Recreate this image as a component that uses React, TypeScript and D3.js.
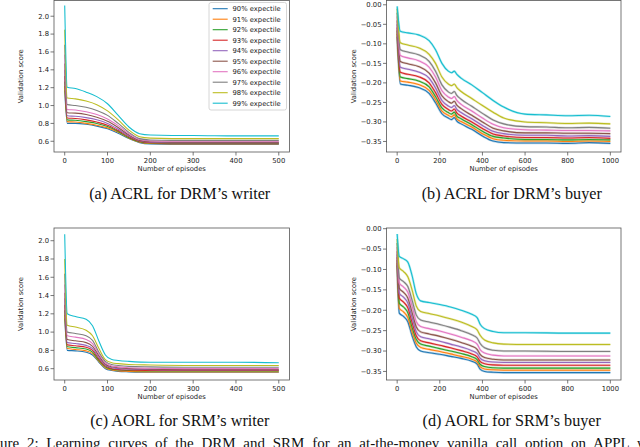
import * as d3 from "d3";

const expectiles = ["90%", "91%", "92%", "93%", "94%", "95%", "96%", "97%", "98%", "99%"];
const palette = d3.schemeCategory10;

// (a) ACRL, DRM writer — one row per expectile, 90% .. 99%
const drmWriterEpisodes = [0, 6, 25, 50, 75, 100, 125, 150, 175, 200, 250, 300, 400, 500];
const drmWriterScores = [
  [1.17, 0.80, 0.80, 0.79, 0.77, 0.74, 0.69, 0.63, 0.585, 0.57, 0.565, 0.565, 0.565, 0.565],
  [1.22, 0.82, 0.815, 0.80, 0.78, 0.75, 0.70, 0.635, 0.59, 0.575, 0.57, 0.57, 0.57, 0.57],
  [1.27, 0.84, 0.835, 0.82, 0.80, 0.765, 0.71, 0.64, 0.595, 0.58, 0.575, 0.575, 0.575, 0.575],
  [1.33, 0.86, 0.855, 0.84, 0.815, 0.78, 0.72, 0.65, 0.60, 0.585, 0.58, 0.58, 0.58, 0.58],
  [1.40, 0.885, 0.88, 0.865, 0.84, 0.80, 0.735, 0.66, 0.605, 0.59, 0.585, 0.585, 0.585, 0.585],
  [1.47, 0.92, 0.915, 0.90, 0.87, 0.825, 0.755, 0.67, 0.61, 0.595, 0.59, 0.59, 0.59, 0.59],
  [1.57, 0.955, 0.95, 0.93, 0.90, 0.85, 0.775, 0.685, 0.62, 0.605, 0.60, 0.60, 0.60, 0.60],
  [1.68, 1.01, 1.00, 0.98, 0.945, 0.89, 0.80, 0.70, 0.63, 0.615, 0.61, 0.61, 0.61, 0.61],
  [1.85, 1.085, 1.075, 1.05, 1.01, 0.94, 0.84, 0.725, 0.65, 0.635, 0.63, 0.63, 0.63, 0.63],
  [2.12, 1.205, 1.19, 1.15, 1.10, 1.02, 0.89, 0.76, 0.685, 0.67, 0.665, 0.665, 0.66, 0.66],
];

// (b) ACRL, DRM buyer
const drmBuyerEpisodes = [0, 15, 50, 100, 150, 180, 210, 240, 255, 268, 280, 300, 350, 400, 450, 500, 600, 700, 800, 900, 1000];
const drmBuyerScores = [
  [-0.082, -0.203, -0.206, -0.212, -0.227, -0.251, -0.279, -0.290, -0.294, -0.289, -0.298, -0.305, -0.319, -0.336, -0.349, -0.353, -0.354, -0.354, -0.355, -0.353, -0.355],
  [-0.074, -0.195, -0.198, -0.204, -0.219, -0.243, -0.272, -0.283, -0.287, -0.282, -0.292, -0.299, -0.313, -0.330, -0.343, -0.347, -0.349, -0.349, -0.350, -0.349, -0.350],
  [-0.066, -0.185, -0.189, -0.195, -0.210, -0.235, -0.264, -0.276, -0.280, -0.275, -0.285, -0.292, -0.307, -0.324, -0.337, -0.341, -0.345, -0.345, -0.346, -0.345, -0.346],
  [-0.058, -0.173, -0.178, -0.184, -0.200, -0.225, -0.255, -0.268, -0.272, -0.267, -0.277, -0.285, -0.300, -0.317, -0.331, -0.336, -0.340, -0.340, -0.341, -0.340, -0.342],
  [-0.050, -0.160, -0.165, -0.172, -0.188, -0.213, -0.245, -0.259, -0.263, -0.258, -0.268, -0.276, -0.292, -0.309, -0.324, -0.330, -0.334, -0.334, -0.336, -0.335, -0.337],
  [-0.040, -0.145, -0.151, -0.158, -0.175, -0.200, -0.233, -0.248, -0.252, -0.247, -0.257, -0.266, -0.283, -0.300, -0.316, -0.323, -0.328, -0.328, -0.329, -0.329, -0.330],
  [-0.030, -0.130, -0.136, -0.143, -0.160, -0.185, -0.220, -0.236, -0.240, -0.235, -0.245, -0.255, -0.272, -0.290, -0.306, -0.315, -0.320, -0.321, -0.322, -0.322, -0.323],
  [-0.020, -0.115, -0.121, -0.128, -0.145, -0.170, -0.205, -0.223, -0.227, -0.222, -0.232, -0.242, -0.260, -0.278, -0.295, -0.305, -0.312, -0.313, -0.315, -0.314, -0.316],
  [-0.010, -0.097, -0.103, -0.110, -0.127, -0.150, -0.185, -0.203, -0.207, -0.203, -0.212, -0.222, -0.240, -0.258, -0.275, -0.290, -0.300, -0.302, -0.304, -0.303, -0.305],
  [-0.004, -0.068, -0.072, -0.077, -0.092, -0.115, -0.150, -0.170, -0.174, -0.170, -0.178, -0.188, -0.205, -0.225, -0.245, -0.262, -0.280, -0.282, -0.284, -0.283, -0.286],
];

// (c) AORL, SRM writer
const srmWriterEpisodes = [0, 6, 25, 50, 65, 80, 95, 110, 125, 150, 200, 300, 400, 500];
const srmWriterScores = [
  [1.15, 0.80, 0.795, 0.78, 0.75, 0.67, 0.60, 0.58, 0.57, 0.565, 0.56, 0.56, 0.56, 0.56],
  [1.19, 0.82, 0.81, 0.795, 0.765, 0.68, 0.61, 0.585, 0.575, 0.57, 0.565, 0.565, 0.565, 0.565],
  [1.24, 0.84, 0.83, 0.815, 0.78, 0.69, 0.62, 0.595, 0.585, 0.58, 0.575, 0.575, 0.575, 0.575],
  [1.30, 0.86, 0.85, 0.835, 0.80, 0.705, 0.63, 0.60, 0.59, 0.585, 0.58, 0.58, 0.58, 0.58],
  [1.37, 0.885, 0.875, 0.855, 0.82, 0.72, 0.64, 0.61, 0.60, 0.595, 0.59, 0.585, 0.585, 0.585],
  [1.43, 0.92, 0.905, 0.885, 0.845, 0.74, 0.65, 0.62, 0.61, 0.60, 0.595, 0.59, 0.59, 0.59],
  [1.52, 0.96, 0.945, 0.92, 0.875, 0.76, 0.665, 0.63, 0.62, 0.61, 0.605, 0.60, 0.60, 0.60],
  [1.64, 1.00, 0.985, 0.96, 0.91, 0.78, 0.68, 0.645, 0.635, 0.625, 0.62, 0.615, 0.615, 0.615],
  [1.80, 1.075, 1.055, 1.02, 0.96, 0.82, 0.70, 0.665, 0.655, 0.645, 0.64, 0.635, 0.635, 0.635],
  [2.07, 1.20, 1.17, 1.14, 1.07, 0.90, 0.75, 0.70, 0.69, 0.68, 0.67, 0.67, 0.67, 0.665],
];

// (d) AORL, SRM buyer
const srmBuyerEpisodes = [0, 10, 30, 50, 70, 90, 110, 150, 200, 250, 300, 350, 375, 390, 410, 450, 500, 600, 800, 1000];
const srmBuyerScores = [
  [-0.090, -0.207, -0.215, -0.228, -0.263, -0.290, -0.300, -0.304, -0.308, -0.313, -0.318, -0.325, -0.332, -0.345, -0.350, -0.352, -0.353, -0.353, -0.353, -0.353],
  [-0.084, -0.195, -0.204, -0.218, -0.253, -0.281, -0.291, -0.296, -0.301, -0.307, -0.313, -0.320, -0.327, -0.339, -0.344, -0.346, -0.347, -0.347, -0.347, -0.347],
  [-0.077, -0.182, -0.192, -0.206, -0.242, -0.272, -0.283, -0.288, -0.294, -0.300, -0.306, -0.314, -0.321, -0.333, -0.338, -0.341, -0.342, -0.342, -0.342, -0.342],
  [-0.070, -0.170, -0.180, -0.194, -0.230, -0.263, -0.275, -0.280, -0.286, -0.292, -0.299, -0.307, -0.314, -0.326, -0.331, -0.334, -0.335, -0.335, -0.335, -0.335],
  [-0.063, -0.158, -0.168, -0.182, -0.218, -0.253, -0.265, -0.270, -0.276, -0.283, -0.290, -0.299, -0.306, -0.318, -0.324, -0.327, -0.328, -0.328, -0.328, -0.328],
  [-0.055, -0.146, -0.156, -0.170, -0.205, -0.241, -0.253, -0.258, -0.264, -0.271, -0.279, -0.288, -0.296, -0.309, -0.316, -0.320, -0.322, -0.322, -0.322, -0.322],
  [-0.045, -0.133, -0.143, -0.156, -0.190, -0.228, -0.240, -0.245, -0.251, -0.258, -0.266, -0.275, -0.283, -0.297, -0.305, -0.310, -0.312, -0.312, -0.312, -0.312],
  [-0.035, -0.121, -0.130, -0.142, -0.175, -0.212, -0.224, -0.229, -0.235, -0.242, -0.250, -0.260, -0.268, -0.282, -0.292, -0.298, -0.300, -0.300, -0.301, -0.301],
  [-0.025, -0.096, -0.105, -0.118, -0.150, -0.190, -0.203, -0.208, -0.214, -0.221, -0.229, -0.240, -0.248, -0.262, -0.273, -0.280, -0.283, -0.284, -0.284, -0.284],
  [-0.013, -0.068, -0.074, -0.082, -0.115, -0.160, -0.177, -0.181, -0.186, -0.192, -0.200, -0.210, -0.218, -0.235, -0.245, -0.252, -0.255, -0.255, -0.256, -0.256],
];

const writerTicksX = [0, 100, 200, 300, 400, 500];
const buyerTicksX = [0, 200, 400, 600, 800, 1000];
const writerTicksY = [0.6, 0.8, 1.0, 1.2, 1.4, 1.6, 1.8, 2.0];
const buyerTicksY = [-0.35, -0.3, -0.25, -0.2, -0.15, -0.1, -0.05, 0];

const TICK_FONT = "DejaVu Sans, sans-serif";
const SERIF = "Liberation Serif, Times New Roman, serif";
const FS = 6.8;
const CAPTION_FS = 16.2;

type Box = { left: number; top: number; right: number; bottom: number };

function Panel(props: {
  box: Box;
  xDomain: [number, number];
  yDomain: [number, number];
  xTicks: number[];
  yTicks: number[];
  yFmt: string;
  episodes: number[];
  scores: number[][];
  noisy?: boolean;
  legend?: boolean;
  caption: string;
  captionY: number;
}) {
  const { box, episodes, scores } = props;
  const x = d3.scaleLinear().domain(props.xDomain).range([box.left, box.right]);
  const y = d3.scaleLinear().domain(props.yDomain).range([box.bottom, box.top]);
  const line = d3
    .line<number>()
    .x((_, i) => x(episodes[i]))
    .y((d) => y(d))
    .curve(d3.curveMonotoneX);
  const fmt = d3.format(props.yFmt);
  const cx = (box.left + box.right) / 2;
  const cy = (box.top + box.bottom) / 2;
  const clipId = `clip-${box.left}-${box.top}`;

  return (
    <g>
      <defs>
        <clipPath id={clipId}>
          <rect x={box.left} y={box.top} width={box.right - box.left} height={box.bottom - box.top} />
        </clipPath>
      </defs>
      <g clipPath={`url(#${clipId})`} fill="none">
        {scores.map((s, i) => (
          <g key={i}>
            {props.noisy && (
              <path d={line(s) ?? ""} stroke={palette[i]} strokeWidth={2.3} strokeOpacity={0.3} />
            )}
            <path d={line(s) ?? ""} stroke={palette[i]} strokeWidth={1.1} />
          </g>
        ))}
      </g>
      <rect
        x={box.left}
        y={box.top}
        width={box.right - box.left}
        height={box.bottom - box.top}
        fill="none"
        stroke="#555"
        strokeWidth={0.8}
      />
      {props.xTicks.map((t) => (
        <g key={t}>
          <line x1={x(t)} x2={x(t)} y1={box.bottom} y2={box.bottom + 3.5} stroke="#555" strokeWidth={0.8} />
          <text x={x(t)} y={box.bottom + 11} textAnchor="middle" fontFamily={TICK_FONT} fontSize={FS} fill="#222">
            {t}
          </text>
        </g>
      ))}
      {props.yTicks.map((t) => (
        <g key={t}>
          <line x1={box.left - 3.5} x2={box.left} y1={y(t)} y2={y(t)} stroke="#555" strokeWidth={0.8} />
          <text
            x={box.left - 5}
            y={y(t)}
            dy="0.35em"
            textAnchor="end"
            fontFamily={TICK_FONT}
            fontSize={FS}
            fill="#222"
          >
            {fmt(t)}
          </text>
        </g>
      ))}
      <text x={cx} y={box.bottom + 19} textAnchor="middle" fontFamily={TICK_FONT} fontSize={FS} fill="#222">
        Number of episodes
      </text>
      <text
        transform={`translate(${box.left - 33},${cy}) rotate(-90)`}
        textAnchor="middle"
        dy="0.35em"
        fontFamily={TICK_FONT}
        fontSize={FS}
        fill="#222"
      >
        Validation score
      </text>
      {props.legend && (
        <g>
          <rect x={209} y={2.5} width={77.5} height={107.5} rx={2} fill="white" fillOpacity={0.85} stroke="#ccc" strokeWidth={0.8} />
          {expectiles.map((e, i) => {
            const ly = 8.7 + i * 10.5;
            return (
              <g key={e}>
                <line x1={212.7} x2={227.7} y1={ly} y2={ly} stroke={palette[i]} strokeWidth={1.1} />
                <text x={232.5} y={ly} dy="0.35em" fontFamily={TICK_FONT} fontSize={FS} fill="#222">
                  {e} expectile
                </text>
              </g>
            );
          })}
        </g>
      )}
      <text x={cx + 8} y={props.captionY} textAnchor="middle" fontFamily={SERIF} fontSize={CAPTION_FS} fill="#111">
        {props.caption}
      </text>
    </g>
  );
}

export default function App() {
  const writerA: Box = { left: 54, top: 0.5, right: 289.5, bottom: 152 };
  const buyerB: Box = { left: 386.5, top: 0.5, right: 621, bottom: 152 };
  const writerC: Box = { left: 54, top: 228, right: 289.5, bottom: 380 };
  const buyerD: Box = { left: 386.5, top: 228, right: 621, bottom: 380 };

  return (
    <svg
      width={640}
      height={447}
      style={{ position: "absolute", left: 0, top: 0, background: "white" }}
    >
      <Panel
        box={writerA}
        xDomain={[-25, 525]}
        yDomain={[0.48, 2.176]}
        xTicks={writerTicksX}
        yTicks={writerTicksY}
        yFmt=".1f"
        episodes={drmWriterEpisodes}
        scores={drmWriterScores}
        legend
        caption="(a) ACRL for DRM’s writer"
        captionY={198.5}
      />
      <Panel
        box={buyerB}
        xDomain={[-50, 1050]}
        yDomain={[-0.377, 0.011]}
        xTicks={buyerTicksX}
        yTicks={buyerTicksY}
        yFmt=".2f"
        episodes={drmBuyerEpisodes}
        scores={drmBuyerScores}
        noisy
        caption="(b) ACRL for DRM’s buyer"
        captionY={198.5}
      />
      <Panel
        box={writerC}
        xDomain={[-25, 525]}
        yDomain={[0.476, 2.139]}
        xTicks={writerTicksX}
        yTicks={writerTicksY}
        yFmt=".1f"
        episodes={srmWriterEpisodes}
        scores={srmWriterScores}
        caption="(c) AORL for SRM’s writer"
        captionY={426}
      />
      <Panel
        box={buyerD}
        xDomain={[-50, 1050]}
        yDomain={[-0.371, 0.0017]}
        xTicks={buyerTicksX}
        yTicks={buyerTicksY}
        yFmt=".2f"
        episodes={srmBuyerEpisodes}
        scores={srmBuyerScores}
        noisy
        caption="(d) AORL for SRM’s buyer"
        captionY={426}
      />
      <text x={-20} y={447.5} fontFamily={SERIF} fontSize={15} fill="#111" wordSpacing={4.0}>
        Figure 2: Learning curves of the DRM and SRM for an at-the-money vanilla call option on APPL with
      </text>
    </svg>
  );
}
